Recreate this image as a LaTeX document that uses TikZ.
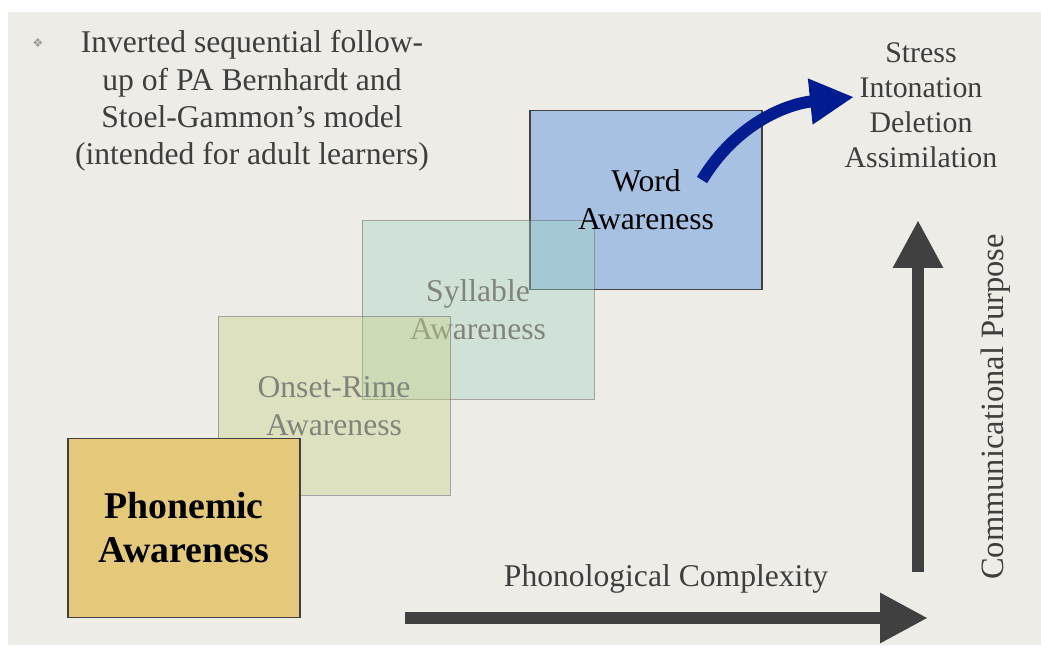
\documentclass[tikz,border=0pt]{standalone}
\usepackage{fontspec}
\setmainfont{Liberation Serif}
\newfontfamily\symbfont{DejaVu Sans}
\usepackage{tikz}
\usetikzlibrary{positioning, arrows.meta, calc}
\definecolor{paper}{RGB}{238,236,231}
\definecolor{inkgray}{RGB}{62,62,62}
\definecolor{axisgray}{RGB}{64,64,64}
\definecolor{phoncolor}{RGB}{228,201,122}
\definecolor{onsetcolor}{RGB}{198,209,131}
\definecolor{sylcolor}{RGB}{163,211,194}
\definecolor{wordcolor}{RGB}{166,193,225}
\definecolor{fadetext}{RGB}{128,132,122}
\definecolor{arcblue}{RGB}{0,28,145}

\begin{document}
\begin{tikzpicture}[
    x=0.02cm, y=-0.02cm,
    level/.style={draw, rectangle, minimum width=4.64cm, minimum height=3.58cm, align=center, inner sep=0pt},
    ghost/.style={level, draw=black!55, draw opacity=0.6, fill opacity=0.4, text opacity=1, text=fadetext, font=\fontsize{18}{21.5}\selectfont},
    axis/.style={-{Triangle[length=0.96cm, width=0.94cm]}, line width=0.25cm, axisgray},
    label/.style={text=inkgray, font=\fontsize{18}{21}\selectfont, align=center}
]
    % Fond
    \useasboundingbox (0,0) rectangle (1041,648);
    \fill[white] (0,0) rectangle (1041,648);
    \fill[paper] (8,12) rectangle (1041,645);

    % Niveaux
    \node[level, fill=wordcolor, draw=black!75, line width=0.8pt] (word) at (646,200) {};
    \node[ghost, fill=sylcolor] (syllable) at (478,310) {Syllable\\Awareness};
    \node[ghost, fill=onsetcolor] (onset) at (334,406) {Onset-Rime\\Awareness};
    \node[level, fill=phoncolor, draw=black!75, line width=0.8pt, font=\fontsize{21.5}{25}\selectfont\bfseries] (phonemic) at (184,528) {Phonemic\\Awareness};
    \node[font=\fontsize{18}{21.5}\selectfont, align=center] (wordtext) at (646,200) {Word\\Awareness};

    % Texte
    \node[text=black!40, font=\symbfont\fontsize{7}{8}\selectfont] (bullet) at (38,43) {❖};
    \node[label, font=\fontsize{18}{21.2}\selectfont] (note) at (252,101) {Inverted sequential follow-\\up of PA Bernhardt and\\Stoel-Gammon’s model\\(intended for adult learners)};
    \node[label, font=\fontsize{17}{20}\selectfont] (effects) at (921,105) {Stress\\Intonation\\Deletion\\Assimilation};

    % Axes
    \coordinate (hstart) at (405,618);
    \coordinate (hend) at (928,618);
    \coordinate (vstart) at (918,572);
    \coordinate (vend) at (918,220);
    \draw[axis] (hstart) -- (hend);
    \draw[axis] (vstart) -- (vend);
    \node[label] (complexity) at (666,579) {Phonological Complexity};
    \node[label, rotate=90, font=\fontsize{18.5}{21}\selectfont] (purpose) at (996,407) {Communicational Purpose};

    % Fleche bleue
    \coordinate (arcstart) at (702,180);
    \coordinate (arctip) at (854,97);
    \draw[-{Triangle[length=0.88cm, width=0.86cm]}, line width=0.24cm, arcblue]
        (arcstart) .. controls (736,124) and (786,104) .. (arctip);
\end{tikzpicture}
\end{document}
